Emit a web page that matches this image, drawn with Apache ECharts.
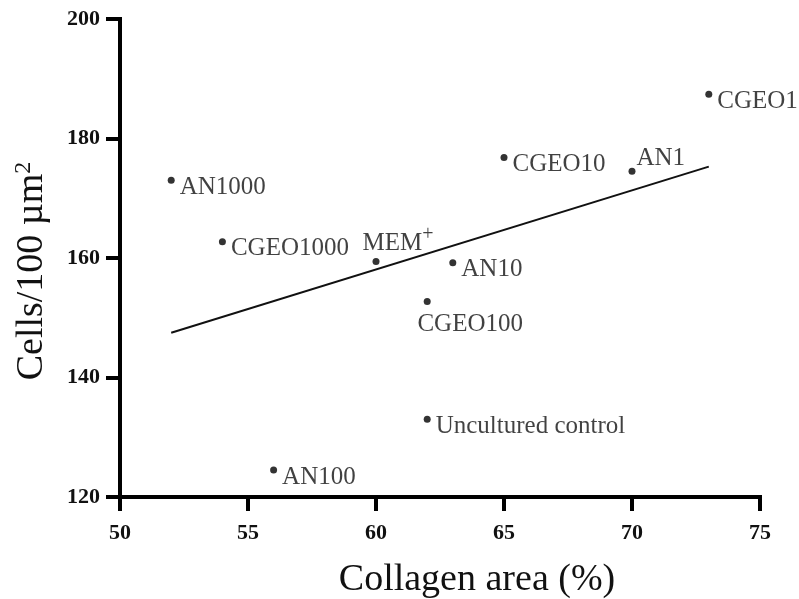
<!DOCTYPE html>
<html>
<head>
<meta charset="utf-8">
<script src="https://cdn.jsdelivr.net/npm/echarts@6/dist/echarts.min.js"></script>
<style>
  html, body { margin: 0; padding: 0; background: #fff; }
  #chart { width: 799px; height: 599px; }
</style>
</head>
<body>
<div id="chart"></div>
<script>
// samples
const names = ['AN1000', 'CGEO1000', 'MEM', 'CGEO10', 'AN1', 'CGEO1', 'AN10', 'CGEO100', 'Uncultured control', 'AN100']
const collagen = [52, 54, 60, 65, 70, 73, 63, 62, 62, 56]
const cells = [173, 162.7, 159.4, 176.8, 174.5, 187.4, 159.2, 152.7, 133, 124.5]

// regression line end points
const fitX = [52, 73]
const fitY = [147.5, 175.3]

const xTicks = [50, 55, 60, 65, 70, 75]
const yTicks = [120, 140, 160, 180, 200]

const serif = 'Liberation Serif'

// where each label sits relative to its dot
const labelPlace = {
  'MEM': { position: 'top', offset: [22, 8], formatter: '{a|MEM}{s|+}' },
  'AN1': { position: 'right', offset: [-4, -13] },
  'CGEO100': { position: 'bottom', offset: [43, 2] }
}

const points = names.map(function (n, i) {
  const lab = labelPlace[n] || { position: 'right', offset: [0, 7] }
  return {
    name: n,
    value: [collagen[i], cells[i]],
    label: Object.assign({ show: true }, lab)
  }
})

const myChart = echarts.init(document.getElementById('chart'))

const option = {
  backgroundColor: '#fff',
  animation: false,
  grid: { left: 120, right: 39, top: 19, bottom: 102, outerBoundsMode: 'none' },
  xAxis: {
    type: 'value',
    min: xTicks[0],
    max: xTicks[xTicks.length - 1],
    interval: 5,
    name: 'Collagen area (%)',
    nameLocation: 'middle',
    nameGap: 64,
    nameTextStyle: { fontFamily: serif, fontSize: 38, color: '#111', padding: [0, 0, 0, 74] },
    axisLine: { lineStyle: { color: '#000', width: 4, cap: 'square' } },
    axisTick: { length: 14, lineStyle: { color: '#000', width: 4 } },
    axisLabel: { fontFamily: serif, fontWeight: 'bold', fontSize: 22, color: '#111', margin: 25 },
    splitLine: { show: false }
  },
  yAxis: {
    type: 'value',
    min: yTicks[0],
    max: yTicks[yTicks.length - 1],
    interval: 20,
    name: '{a|Cells/100 µm}{s|2}',
    nameLocation: 'middle',
    nameGap: 68,
    nameTextStyle: {
      padding: [0, 26, 0, 0],
      rich: {
        a: { fontFamily: serif, fontSize: 38, color: '#111' },
        s: { fontFamily: serif, fontSize: 24, color: '#111', padding: [0, 0, 16, 0] }
      }
    },
    axisLine: { lineStyle: { color: '#000', width: 4, cap: 'square' } },
    axisTick: { length: 14, lineStyle: { color: '#000', width: 4 } },
    axisLabel: { fontFamily: serif, fontWeight: 'bold', fontSize: 22, color: '#111', margin: 20 },
    splitLine: { show: false }
  },
  series: [
    {
      type: 'line',
      data: fitX.map(function (x, i) { return [x, fitY[i]] }),
      showSymbol: false,
      lineStyle: { color: '#111', width: 2 },
      silent: true,
      z: 1
    },
    {
      type: 'scatter',
      data: points,
      symbolSize: 7,
      itemStyle: { color: '#000' },
      label: {
        show: true,
        formatter: '{b}',
        fontFamily: serif,
        fontSize: 25,
        color: '#111',
        distance: 5,
        rich: {
          a: { fontFamily: serif, fontSize: 25, color: '#111' },
          s: { fontFamily: serif, fontSize: 20, color: '#111', padding: [0, 0, 16, 0] }
        }
      },
      z: 2
    }
  ]
}

myChart.setOption(option)
</script>
</body>
</html>
